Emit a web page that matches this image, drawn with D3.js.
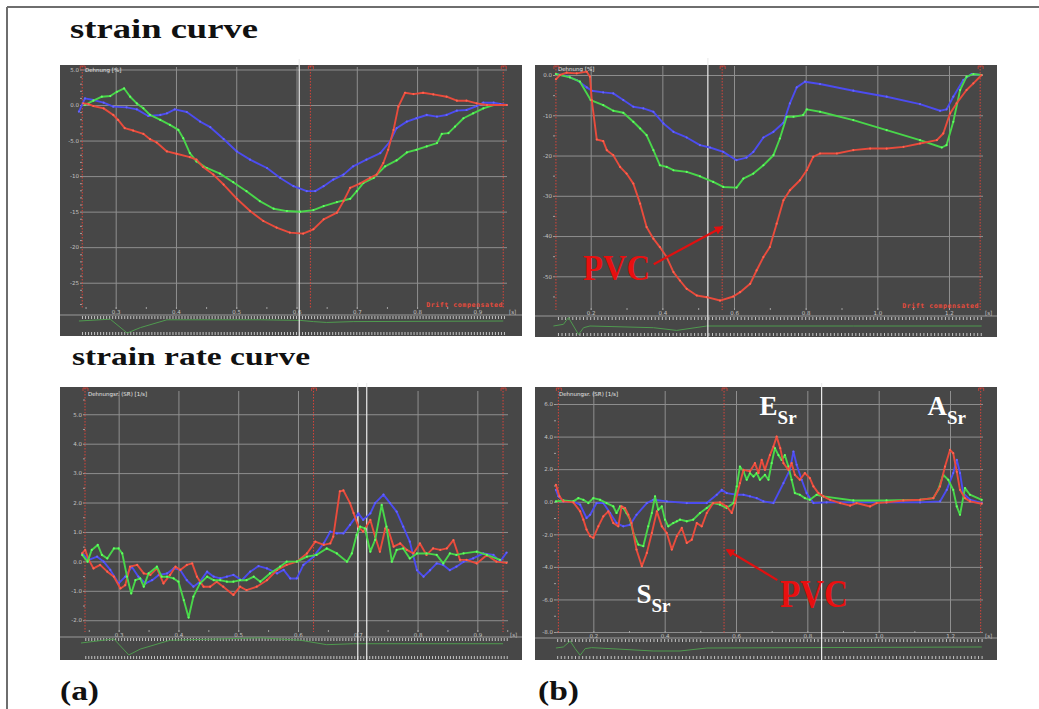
<!DOCTYPE html>
<html>
<head>
<meta charset="utf-8">
<script src="https://cdn.jsdelivr.net/npm/d3@7"></script>
<style>
  body { margin: 0; background: #fff; }
  svg { display: block; }
</style>
</head>
<body>
<script>
// ---- data: [time (s), value] ----

// (a) strain curve, %
var strainA_blue = [[0.239,-0.93],[0.249,0.93],[0.263,0.70],[0.280,0.33],[0.296,-0.23],[0.318,-0.33],[0.335,-0.61],[0.354,-1.54],[0.374,-1.40],[0.385,-1.17],[0.398,-0.61],[0.418,-0.98],[0.440,-2.33],[0.457,-3.12],[0.479,-4.78],[0.501,-6.53],[0.523,-7.69],[0.551,-8.86],[0.573,-10.26],[0.595,-11.42],[0.617,-12.12],[0.631,-12.12],[0.645,-11.42],[0.661,-10.49],[0.678,-9.79],[0.694,-8.62],[0.716,-7.69],[0.739,-6.76],[0.755,-5.13],[0.766,-3.26],[0.783,-2.33],[0.799,-1.86],[0.816,-1.40],[0.833,-1.63],[0.849,-1.40],[0.866,-0.79],[0.882,-0.70],[0.899,-0.14],[0.910,0.33],[0.927,0.33],[0.938,0.14],[0.949,0]];
var strainA_green = [[0.249,0],[0.263,0.61],[0.277,1.17],[0.291,1.26],[0.302,1.86],[0.314,2.33],[0.324,1.17],[0.335,0.23],[0.346,-0.47],[0.357,-1.40],[0.374,-2.10],[0.390,-2.80],[0.404,-3.50],[0.412,-4.66],[0.423,-6.76],[0.434,-7.93],[0.451,-8.86],[0.473,-9.65],[0.495,-10.86],[0.517,-12.12],[0.539,-13.52],[0.562,-14.59],[0.584,-14.92],[0.606,-15.01],[0.628,-14.78],[0.645,-14.22],[0.667,-13.66],[0.689,-13.19],[0.700,-12.12],[0.711,-10.96],[0.728,-10.26],[0.747,-8.62],[0.766,-7.79],[0.783,-6.67],[0.799,-6.29],[0.816,-5.83],[0.833,-5.36],[0.841,-4.06],[0.852,-3.96],[0.863,-3.03],[0.877,-1.86],[0.893,-1.17],[0.910,-0.47],[0.927,0],[0.938,0]];
var strainA_red = [[0.246,0.23],[0.255,0.14],[0.263,-0.14],[0.280,-0.47],[0.296,-1.40],[0.304,-2.10],[0.315,-3.26],[0.329,-3.59],[0.346,-4.06],[0.357,-4.80],[0.368,-5.27],[0.385,-6.53],[0.401,-6.86],[0.423,-7.32],[0.434,-7.69],[0.445,-8.72],[0.462,-9.79],[0.479,-11.19],[0.501,-13.19],[0.523,-14.92],[0.545,-16.32],[0.567,-17.25],[0.589,-17.95],[0.611,-18.09],[0.628,-17.48],[0.645,-16.08],[0.667,-15.15],[0.678,-13.52],[0.689,-11.65],[0.705,-11.05],[0.722,-10.26],[0.733,-9.79],[0.744,-8.16],[0.752,-6.29],[0.761,-3.50],[0.769,-0.23],[0.780,1.73],[0.794,1.54],[0.810,1.73],[0.827,1.49],[0.849,1.17],[0.866,0.61],[0.882,0.61],[0.899,0.23],[0.916,0],[0.949,0]];
var ecgA = [[0.239,0],[0.291,0.15],[0.319,-1.0],[0.341,-0.55],[0.385,0.1],[0.540,0.1],[0.606,0.05],[0.628,-0.05],[0.650,-0.12],[0.694,-0.05],[0.943,0]];

// (b) strain curve, %
var strainB_blue = [[0.103,0.25],[0.133,-0.25],[0.161,-1.24],[0.189,-3.07],[0.203,-3.90],[0.235,-4.32],[0.263,-4.56],[0.291,-6.22],[0.319,-7.88],[0.347,-8.30],[0.375,-9.13],[0.403,-12.03],[0.431,-14.11],[0.468,-15.52],[0.505,-17.43],[0.533,-18.01],[0.570,-19.09],[0.607,-21.16],[0.635,-20.50],[0.654,-19.09],[0.682,-15.52],[0.710,-14.11],[0.738,-11.87],[0.756,-7.05],[0.775,-3.07],[0.798,-1.66],[0.840,-2.24],[0.933,-3.90],[1.026,-5.39],[1.119,-7.22],[1.175,-8.88],[1.193,-8.55],[1.212,-5.39],[1.240,-1.24],[1.263,0.25],[1.291,0]];
var strainB_green = [[0.103,0.25],[0.142,-0.58],[0.170,-1.66],[0.200,-6.22],[0.235,-7.47],[0.263,-8.88],[0.291,-9.38],[0.319,-11.62],[0.338,-13.28],[0.356,-14.94],[0.375,-18.67],[0.393,-22.41],[0.412,-22.82],[0.431,-23.65],[0.468,-24.07],[0.505,-25.15],[0.542,-26.56],[0.570,-27.80],[0.607,-27.97],[0.626,-25.73],[0.654,-24.48],[0.682,-22.41],[0.710,-19.92],[0.728,-15.77],[0.747,-10.37],[0.766,-10.37],[0.793,-9.96],[0.803,-8.55],[0.840,-9.13],[0.933,-11.20],[1.026,-13.69],[1.119,-16.18],[1.180,-18.01],[1.193,-17.43],[1.212,-11.62],[1.231,-3.73],[1.249,-0.41],[1.268,0.25],[1.291,0]];
var strainB_red = [[0.103,-1.08],[0.114,0],[0.133,0.58],[0.161,0.41],[0.189,0.83],[0.198,-0.41],[0.203,-6.22],[0.217,-16.02],[0.235,-16.43],[0.245,-18.67],[0.263,-19.92],[0.282,-22.82],[0.300,-24.48],[0.319,-26.97],[0.338,-31.95],[0.356,-37.76],[0.375,-40.66],[0.393,-42.74],[0.412,-45.23],[0.431,-48.96],[0.449,-51.04],[0.468,-53.11],[0.496,-54.77],[0.524,-55.19],[0.561,-56.02],[0.598,-55.02],[0.617,-53.94],[0.645,-51.87],[0.663,-48.55],[0.682,-45.23],[0.700,-42.74],[0.719,-36.93],[0.738,-31.12],[0.756,-28.63],[0.784,-26.14],[0.803,-23.65],[0.821,-20.33],[0.840,-19.50],[0.887,-19.50],[0.933,-18.67],[0.980,-18.26],[1.026,-18.26],[1.073,-17.84],[1.119,-17.01],[1.166,-16.18],[1.184,-14.52],[1.203,-9.54],[1.221,-7.05],[1.249,-3.73],[1.268,-2.07],[1.291,0]];
var ecgB = [[0.096,0],[0.124,0.2],[0.138,1.0],[0.152,0],[0.166,-1.0],[0.180,-0.2],[0.198,0],[0.375,-0.2],[0.440,-0.52],[0.524,0],[0.933,0],[1.291,0]];

// (a) strain rate curve, 1/s
var rateA_red = [[0.239,0.27],[0.244,0.39],[0.250,0.05],[0.258,-0.24],[0.269,-0.12],[0.281,-0.35],[0.292,-0.52],[0.303,-0.92],[0.311,-0.81],[0.319,-0.18],[0.331,-0.12],[0.342,-0.41],[0.353,-0.46],[0.364,-0.24],[0.375,-0.75],[0.386,-0.46],[0.395,-0.18],[0.403,-0.29],[0.414,-0.12],[0.423,-0.07],[0.431,-0.52],[0.442,-0.86],[0.453,-0.86],[0.464,-0.69],[0.475,-0.86],[0.492,-1.14],[0.503,-0.86],[0.514,-0.98],[0.531,-0.86],[0.548,-0.64],[0.565,-0.29],[0.581,-0.12],[0.598,-0.01],[0.615,0.27],[0.629,0.67],[0.643,0.56],[0.654,0.61],[0.659,0.84],[0.670,2.38],[0.676,2.41],[0.687,1.98],[0.693,1.64],[0.701,1.18],[0.709,1.01],[0.721,1.41],[0.729,0.84],[0.737,0.33],[0.746,1.12],[0.751,1.07],[0.760,0.50],[0.771,0.61],[0.782,0.39],[0.793,0.27],[0.804,0.61],[0.815,0.22],[0.826,0.44],[0.838,0.39],[0.849,0.44],[0.860,0.72],[0.871,0.05],[0.882,0.05],[0.899,-0.07],[0.916,0.22],[0.932,-0.01],[0.949,-0.05]];
var rateA_blue = [[0.239,0.27],[0.250,0.05],[0.264,0.16],[0.275,-0.01],[0.286,-0.29],[0.300,-0.75],[0.311,-0.52],[0.322,-0.18],[0.333,-0.52],[0.345,-0.75],[0.356,-0.64],[0.367,-0.46],[0.381,-0.41],[0.392,-0.24],[0.403,-0.29],[0.414,-0.64],[0.425,-0.86],[0.436,-0.69],[0.448,-0.35],[0.459,-0.52],[0.470,-0.58],[0.481,-0.52],[0.492,-0.46],[0.506,-0.64],[0.520,-0.35],[0.534,-0.16],[0.548,-0.24],[0.565,-0.41],[0.576,-0.29],[0.587,-0.58],[0.598,-0.58],[0.609,-0.12],[0.626,0.16],[0.643,0.61],[0.654,1.01],[0.665,0.95],[0.676,0.95],[0.687,1.24],[0.701,1.63],[0.709,1.41],[0.721,1.63],[0.729,1.98],[0.743,2.27],[0.754,1.98],[0.765,1.69],[0.776,1.18],[0.787,0.67],[0.799,-0.30],[0.810,-0.52],[0.821,-0.30],[0.832,-0.07],[0.843,-0.12],[0.854,-0.30],[0.865,-0.18],[0.877,-0.01],[0.893,0.10],[0.910,0.27],[0.927,0.22],[0.938,-0.01],[0.949,0.30]];
var rateA_green = [[0.239,0.22],[0.248,-0.01],[0.255,0.39],[0.265,0.56],[0.272,0.22],[0.281,0.10],[0.292,0.44],[0.300,0.44],[0.306,0.27],[0.314,-0.52],[0.321,-1.09],[0.328,-0.64],[0.336,-0.58],[0.342,-0.86],[0.350,-0.41],[0.364,-0.18],[0.372,-0.52],[0.381,-0.52],[0.392,-0.58],[0.400,-0.69],[0.409,-1.32],[0.417,-1.91],[0.425,-1.20],[0.436,-0.75],[0.448,-0.52],[0.459,-0.64],[0.470,-0.64],[0.481,-0.69],[0.492,-0.69],[0.503,-0.64],[0.514,-0.64],[0.526,-0.52],[0.537,-0.69],[0.553,-0.41],[0.570,-0.18],[0.581,-0.01],[0.598,-0.01],[0.615,0.16],[0.631,0.22],[0.648,0.44],[0.665,0.27],[0.682,-0.01],[0.690,0.27],[0.698,0.90],[0.704,1.18],[0.712,1.12],[0.721,0.33],[0.729,0.73],[0.740,1.92],[0.748,1.18],[0.757,-0.01],[0.765,0.39],[0.776,0.44],[0.787,0.10],[0.799,0.27],[0.815,0.27],[0.832,0.22],[0.843,-0.07],[0.854,0.27],[0.865,0.22],[0.877,0.27],[0.899,0.33],[0.916,0.22],[0.938,0.05]];
var ecgC = [[0.237,0],[0.292,0.34],[0.317,-1.0],[0.336,-0.51],[0.386,0.23],[0.537,0.43],[0.604,0.23],[0.648,-0.14],[0.693,-0.06],[0.943,-0.06]];

// (b) strain rate curve, 1/s
var rateB_blue = [[0.095,0.73],[0.102,0.33],[0.116,0.02],[0.144,0],[0.163,-0.18],[0.181,-1.0],[0.191,-0.80],[0.209,-0.08],[0.228,-0.08],[0.247,-0.69],[0.265,-1.31],[0.284,-1.51],[0.303,-1.41],[0.321,-0.80],[0.350,-0.08],[0.368,0.12],[0.406,0.02],[0.462,-0.08],[0.518,-0.08],[0.546,0.43],[0.560,0.73],[0.574,0.53],[0.602,0.43],[0.621,0.43],[0.639,0.33],[0.658,0.22],[0.677,0.02],[0.705,-0.08],[0.733,1.14],[0.751,1.96],[0.761,3.08],[0.770,2.27],[0.784,1.35],[0.798,0.53],[0.817,-0.08],[0.854,-0.04],[0.929,-0.04],[1.022,-0.04],[1.116,-0.04],[1.172,0.02],[1.191,0.73],[1.209,1.76],[1.219,2.57],[1.228,1.76],[1.237,0.53],[1.256,0.12],[1.289,-0.08]];
var rateB_red = [[0.095,1.04],[0.105,0.33],[0.116,0.02],[0.144,-0.04],[0.163,-0.59],[0.172,-1.10],[0.181,-1.71],[0.191,-2.12],[0.200,-2.22],[0.214,-1.51],[0.228,-0.90],[0.242,-0.59],[0.256,-1.31],[0.270,-1.51],[0.279,-0.29],[0.289,-0.39],[0.298,-0.80],[0.307,-1.31],[0.321,-2.94],[0.336,-3.96],[0.350,-3.14],[0.364,-1.92],[0.378,-0.59],[0.392,-1.51],[0.406,-1.92],[0.420,-2.94],[0.434,-2.12],[0.448,-1.61],[0.462,-2.53],[0.476,-2.33],[0.490,-1.31],[0.504,-1.51],[0.518,-0.69],[0.536,-0.08],[0.555,-0.04],[0.574,-0.29],[0.588,-0.69],[0.597,-0.08],[0.611,1.14],[0.621,1.96],[0.639,1.86],[0.653,2.37],[0.663,1.76],[0.672,2.57],[0.681,1.96],[0.695,2.86],[0.705,3.39],[0.714,4.0],[0.724,3.29],[0.733,2.37],[0.747,1.96],[0.756,2.37],[0.765,1.65],[0.779,1.35],[0.793,1.76],[0.807,1.45],[0.817,0.94],[0.831,0.53],[0.845,0.33],[0.864,0.12],[0.892,-0.08],[0.920,-0.24],[0.938,-0.08],[0.976,-0.29],[0.994,-0.08],[1.022,-0.04],[1.069,0.08],[1.116,0.12],[1.153,0.22],[1.172,0.94],[1.186,2.16],[1.200,3.18],[1.209,2.98],[1.219,1.84],[1.228,0.73],[1.242,0.22],[1.256,0.02],[1.289,-0.12]];
var rateB_green = [[0.095,0.02],[0.116,0.08],[0.144,0.02],[0.158,0.22],[0.172,0.12],[0.186,-0.08],[0.200,0.22],[0.219,0.12],[0.237,-0.08],[0.256,-0.29],[0.265,-0.69],[0.275,-0.29],[0.284,-0.39],[0.293,-0.69],[0.303,-1.10],[0.312,-1.92],[0.326,-2.63],[0.340,-2.73],[0.354,-1.51],[0.364,-0.69],[0.373,0.33],[0.382,-0.49],[0.392,-0.29],[0.401,-1.10],[0.410,-1.51],[0.424,-1.31],[0.434,-1.20],[0.443,-1.10],[0.462,-1.20],[0.480,-1.10],[0.499,-0.69],[0.518,-0.39],[0.536,-0.08],[0.555,-0.18],[0.574,-0.39],[0.593,-0.08],[0.602,0.94],[0.611,2.16],[0.621,1.86],[0.630,1.35],[0.639,1.76],[0.649,1.55],[0.658,1.76],[0.667,1.35],[0.681,1.65],[0.691,1.35],[0.700,2.37],[0.709,3.29],[0.719,2.86],[0.728,2.57],[0.737,2.86],[0.747,2.16],[0.756,1.35],[0.765,0.53],[0.779,0.43],[0.793,0.22],[0.807,0.12],[0.826,0.43],[0.845,0.33],[0.929,0.08],[1.022,0.08],[1.116,0.12],[1.153,0.22],[1.167,0.73],[1.181,1.65],[1.195,1.35],[1.209,0.73],[1.219,-0.29],[1.228,-0.80],[1.242,0.84],[1.256,0.43],[1.289,0.12]];
var ecgD = [[0.095,0],[0.116,0.14],[0.135,0.95],[0.149,-0.09],[0.163,-1.0],[0.177,-0.09],[0.195,0.05],[0.368,-0.41],[0.443,-0.41],[0.518,0],[1.289,0.14]];

// tick values / labels
var ticksA_x = [0.3, 0.4, 0.5, 0.6, 0.7, 0.8, 0.9];
var labelsA_x = ["0.3", "0.4", "0.5", "0.6", "0.7", "0.8", "0.9"];
var ticksB_x = [0.2, 0.4, 0.6, 0.8, 1.0, 1.2];
var labelsB_x = ["0.2", "0.4", "0.6", "0.8", "1.0", "1.2"];
var ticksStrainA_y = [5, 0, -5, -10, -15, -20, -25];
var labelsStrainA_y = ["5.0", "0.0", "-5.0", "-10", "-15", "-20", "-25"];
var ticksStrainB_y = [0, -10, -20, -30, -40, -50];
var labelsStrainB_y = ["0.0", "-10", "-20", "-30", "-40", "-50"];
var ticksRateA_y = [5, 4, 3, 2, 1, 0, -1, -2];
var labelsRateA_y = ["5.0", "4.0", "3.0", "2.0", "1.0", "0.0", "-1.0", "-2.0"];
var ticksRateB_y = [6, 4, 2, 0, -2, -4, -6, -8];
var labelsRateB_y = ["6.0", "4.0", "2.0", "0.0", "-2.0", "-4.0", "-6.0", "-8.0"];

// marker times (s)
var redMarksA1 = [0.2445, 0.623, 0.943];
var whiteMarksA1 = [0.6045];
var redMarksB1 = [0.103, 0.567, 1.287];
var whiteMarksB1 = [0.527];
var redMarksA2 = [0.2437, 0.626, 0.943];
var whiteMarksA2 = [0.700, 0.715];
var redMarksB2 = [0.102, 0.5665, 1.286];
var whiteMarksB2 = [0.840];

var RED = "#e94b3c", GREEN = "#49d64a", BLUE = "#4c4cf0";
var SERIF = "'Liberation Serif', 'Times New Roman', serif";

var svg = d3.select("body").append("svg")
    .attr("width", 1039)
    .attr("height", 709);

// outer frame
svg.append("line").attr("x1", 7).attr("x2", 1039).attr("y1", 7).attr("y2", 7)
    .attr("stroke", "#6e6e6e").attr("stroke-width", 2);
svg.append("line").attr("x1", 7).attr("x2", 7).attr("y1", 7).attr("y2", 709)
    .attr("stroke", "#6e6e6e").attr("stroke-width", 2);

function drawPanel(p) {
    var g = svg.append("g");
    g.append("rect")
        .attr("x", p.px).attr("y", p.py)
        .attr("width", p.pw).attr("height", p.ph)
        .attr("fill", "#474747");

    var x = d3.scaleLinear().domain(p.xDomain).range([p.l, p.r]);
    var y = d3.scaleLinear().domain(p.yDomain).range([p.b, p.t]);

    // gridlines + labels
    var xAxis = g.append("g")
        .attr("transform", `translate(0,${p.b})`)
        .call(d3.axisBottom(x).tickValues(p.xTicks)
            .tickFormat((d, i) => p.xLabels[i])
            .tickSize(-(p.b - p.t)).tickPadding(1));
    var yAxis = g.append("g")
        .attr("transform", `translate(${p.l},0)`)
        .call(d3.axisLeft(y).tickValues(p.yTicks)
            .tickFormat((d, i) => p.yLabels[i])
            .tickSize(-(p.r - p.l)).tickPadding(3));
    [xAxis, yAxis].forEach(a => {
        a.select(".domain").remove();
        a.selectAll("line").attr("stroke", "#8f8f8f").attr("stroke-width", 1);
        a.selectAll("text").attr("fill", "#c4c4c4")
            .attr("font-family", "DejaVu Sans").attr("font-size", 5.5);
    });

    // minor ticks on left edge and bottom edge
    g.append("g").attr("transform", `translate(${p.l},0)`)
        .call(d3.axisLeft(y).ticks(p.minorY).tickSize(2).tickFormat(""))
        .call(a => a.select(".domain").remove())
        .selectAll("line").attr("stroke", "#a0a0a0");
    g.append("g").attr("transform", `translate(0,${p.b})`)
        .call(d3.axisTop(x).ticks(p.minorX).tickSize(2).tickFormat(""))
        .call(a => a.select(".domain").remove())
        .selectAll("line").attr("stroke", "#a0a0a0");

    // (s) unit
    g.append("text").attr("x", p.r + 2).attr("y", p.b + 5)
        .attr("fill", "#c4c4c4").attr("font-family", "DejaVu Sans")
        .attr("font-size", 5.5).text("[s]");

    // axis title
    g.append("text").attr("x", p.l + 3).attr("y", p.t + 5)
        .attr("fill", "#e8e8e8").attr("font-family", "DejaVu Sans")
        .attr("font-size", 5.5).text(p.title);

    // ecg strip
    g.append("line").attr("x1", p.px).attr("x2", p.px + p.pw)
        .attr("y1", p.stripTop).attr("y2", p.stripTop)
        .attr("stroke", "#9a9a9a").attr("stroke-width", 1);
    var dashes = x.ticks(p.dashCount);
    g.selectAll(".dashTop").data(dashes).enter().append("line")
        .attr("x1", d => x(d)).attr("x2", d => x(d))
        .attr("y1", p.stripTop + 1).attr("y2", p.stripTop + 4)
        .attr("stroke", "#d0d0d0").attr("stroke-width", 0.9);
    g.selectAll(".dashBot").data(dashes).enter().append("line")
        .attr("x1", d => x(d)).attr("x2", d => x(d))
        .attr("y1", p.py + p.ph - 4).attr("y2", p.py + p.ph - 1)
        .attr("stroke", "#d0d0d0").attr("stroke-width", 0.9);
    var ye = d3.scaleLinear().domain([0, 1]).range([p.ecgBase, p.ecgBase - p.ecgScale]);
    g.append("path").datum(p.ecg)
        .attr("d", d3.line().x(d => x(d[0])).y(d => ye(d[1])))
        .attr("fill", "none").attr("stroke", "#4f9a4f").attr("stroke-width", 1);

    // red dotted markers
    g.selectAll(".redMark").data(p.red).enter().append("line")
        .attr("x1", d => x(d)).attr("x2", d => x(d))
        .attr("y1", p.py + 1).attr("y2", p.b)
        .attr("stroke", "#d8443a").attr("stroke-width", 1)
        .attr("stroke-dasharray", "1.5,1.5");
    g.selectAll(".redTag").data(p.red).enter().append("path")
        .attr("d", d => `M${x(d) - 2},${p.py + 4}V${p.py + 1}H${x(d) + 3}V${p.py + 4}`)
        .attr("fill", "none").attr("stroke", "#d8443a").attr("stroke-width", 0.8);

    // white cursor lines
    g.selectAll(".whiteMark").data(p.white).enter().append("line")
        .attr("x1", d => x(d)).attr("x2", d => x(d))
        .attr("y1", p.t - 8).attr("y2", p.py + p.ph)
        .attr("stroke", "#ececec").attr("stroke-width", 1.2);

    // curves
    var line = d3.line().x(d => x(d[0])).y(d => y(d[1]));
    p.series.forEach(s => {
        g.append("path").datum(s.data)
            .attr("d", line)
            .attr("fill", "none").attr("stroke", s.color)
            .attr("stroke-width", 1.9).attr("stroke-linejoin", "round");
        g.selectAll(null).data(s.data).enter().append("circle")
            .attr("cx", d => x(d[0])).attr("cy", d => y(d[1]))
            .attr("r", 1.1)
            .attr("fill", d3.color(s.color).brighter(0.8));
    });

    if (p.drift) {
        g.append("text").attr("x", p.r - 4).attr("y", p.b - 2)
            .attr("text-anchor", "end")
            .attr("fill", "#e94b3c").attr("font-family", "DejaVu Sans Mono")
            .attr("font-weight", "bold").attr("font-size", 6.5)
            .attr("letter-spacing", 0.6)
            .text("Drift compensated");
    }
    return { x: x, y: y, g: g };
}

var pA1 = drawPanel({
    px: 60, py: 65, pw: 462, ph: 271,
    l: 82, r: 507, t: 67, b: 309,
    xDomain: [0.2441, 0.9492], yDomain: [-28.7, 5.35],
    xTicks: ticksA_x, xLabels: labelsA_x, yTicks: ticksStrainA_y, yLabels: labelsStrainA_y,
    minorY: 30, minorX: 14, dashCount: 140,
    title: "Dehnung [%]",
    stripTop: 315, ecg: ecgA, ecgBase: 321, ecgScale: 12,
    red: redMarksA1, white: whiteMarksA1, drift: true,
    series: [{ data: strainA_blue, color: BLUE }, { data: strainA_green, color: GREEN }, { data: strainA_red, color: RED }]
});

var pB1 = drawPanel({
    px: 535, py: 65, pw: 462, ph: 272,
    l: 555, r: 983, t: 66, b: 310,
    xDomain: [0.1004, 1.2949], yDomain: [-58.37, 2.24],
    xTicks: ticksB_x, xLabels: labelsB_x, yTicks: ticksStrainB_y, yLabels: labelsStrainB_y,
    minorY: 12, minorX: 12, dashCount: 120,
    title: "Dehnung [%]",
    stripTop: 316, ecg: ecgB, ecgBase: 326, ecgScale: 8.5,
    red: redMarksB1, white: whiteMarksB1, drift: true,
    series: [{ data: strainB_blue, color: BLUE }, { data: strainB_green, color: GREEN }, { data: strainB_red, color: RED }]
});

var pA2 = drawPanel({
    px: 60, py: 387, pw: 462, ph: 273,
    l: 85, r: 508, t: 391, b: 632,
    xDomain: [0.2437, 0.9513], yDomain: [-2.40, 5.79],
    xTicks: ticksA_x, xLabels: labelsA_x, yTicks: ticksRateA_y, yLabels: labelsRateA_y,
    minorY: 16, minorX: 14, dashCount: 140,
    title: "Dehnungsr. (SR) [1/s]",
    stripTop: 637, ecg: ecgC, ecgBase: 643, ecgScale: 12,
    red: redMarksA2, white: whiteMarksA2, drift: false,
    series: [{ data: rateA_blue, color: BLUE }, { data: rateA_red, color: RED }, { data: rateA_green, color: GREEN }]
});

var pB2 = drawPanel({
    px: 535, py: 387, pw: 462, ph: 273,
    l: 556, r: 983, t: 391, b: 633,
    xDomain: [0.0953, 1.2925], yDomain: [-8.06, 6.80],
    xTicks: ticksB_x, xLabels: labelsB_x, yTicks: ticksRateB_y, yLabels: labelsRateB_y,
    minorY: 14, minorX: 12, dashCount: 120,
    title: "Dehnungsr. (SR) [1/s]",
    stripTop: 638, ecg: ecgD, ecgBase: 648, ecgScale: 7.3,
    red: redMarksB2, white: whiteMarksB2, drift: false,
    series: [{ data: rateB_blue, color: BLUE }, { data: rateB_green, color: GREEN }, { data: rateB_red, color: RED }]
});

// ---- annotations ----
var defs = svg.append("defs");
defs.append("marker").attr("id", "arrow")
    .attr("viewBox", "0 0 10 10").attr("refX", 8).attr("refY", 5)
    .attr("markerWidth", 4).attr("markerHeight", 4).attr("orient", "auto")
    .append("path").attr("d", "M0,0L10,5L0,10z").attr("fill", "#e01010");

function arrow(pn, t0, v0, t1, v1) {
    pn.g.append("line")
        .attr("x1", pn.x(t0)).attr("y1", pn.y(v0))
        .attr("x2", pn.x(t1)).attr("y2", pn.y(v1))
        .attr("stroke", "#e01010").attr("stroke-width", 2.2)
        .attr("marker-end", "url(#arrow)");
}
function bigText(pn, t, v, txt, size, len, color) {
    return pn.g.append("text")
        .attr("x", pn.x(t)).attr("y", pn.y(v))
        .attr("font-family", SERIF).attr("font-weight", "bold")
        .attr("font-size", size).attr("fill", color)
        .attr("textLength", len).attr("lengthAdjust", "spacingAndGlyphs")
        .text(txt);
}
function subLabel(pn, t, v, main, sub) {
    var tx = pn.g.append("text")
        .attr("x", pn.x(t)).attr("y", pn.y(v))
        .attr("font-family", SERIF).attr("font-weight", "bold")
        .attr("fill", "#ffffff");
    tx.append("tspan").attr("font-size", 27).text(main);
    tx.append("tspan").attr("font-size", 19).attr("dy", 9).text(sub);
}

bigText(pB1, 0.1785, -50.9, "PVC", 35, 67, "#e81010");
arrow(pB1, 0.376, -47.0, 0.5665, -37.8);

subLabel(pB2, 0.666, 5.32, "E", "Sr");
subLabel(pB2, 1.137, 5.32, "A", "Sr");
subLabel(pB2, 0.321, -6.22, "S", "Sr");
bigText(pB2, 0.723, -6.46, "PVC", 39, 68, "#e81010");
arrow(pB2, 0.716, -4.81, 0.575, -2.96);

// headings
function heading(txt, xx, yy, size, len) {
    svg.append("text").attr("x", xx).attr("y", yy)
        .attr("font-family", SERIF).attr("font-weight", "bold")
        .attr("font-size", size).attr("fill", "#111")
        .attr("textLength", len).attr("lengthAdjust", "spacingAndGlyphs")
        .text(txt);
}
heading("strain curve", 70, 38, 27, 188);
heading("strain rate curve", 72, 365, 26, 238);
heading("(a)", 60, 700, 27, 39);
heading("(b)", 538, 700, 27, 41);
</script>
</body>
</html>
